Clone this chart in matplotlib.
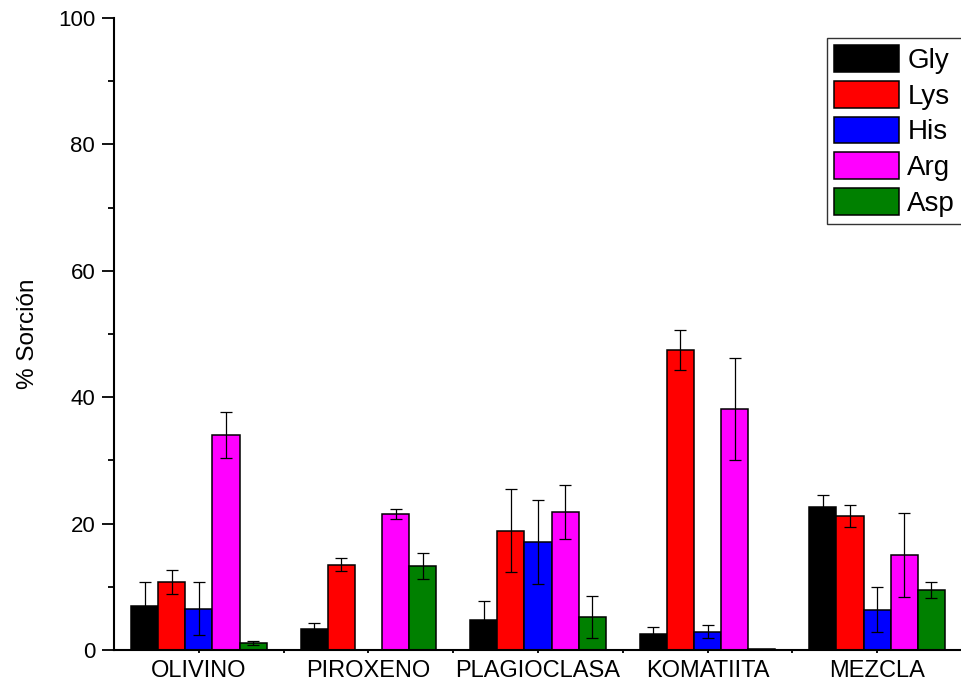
import numpy as np
import matplotlib
matplotlib.use('Agg')
import matplotlib.pyplot as plt
from matplotlib.ticker import MultipleLocator, FixedLocator

plt.rcParams['font.family'] = ['Liberation Sans', 'DejaVu Sans']

# Data
minerals = ['OLIVINO', 'PIROXENO', 'PLAGIOCLASA', 'KOMATIITA', 'MEZCLA']
amino = ['Gly', 'Lys', 'His', 'Arg', 'Asp']
colors = ['#000000', '#ff0000', '#0000ff', '#ff00ff', '#008000']

gly = [6.9, 3.3, 4.7, 2.5, 22.6]
lys = [10.8, 13.5, 18.9, 47.5, 21.2]
his = [6.5, 0.0, 17.1, 2.9, 6.4]
arg = [34.0, 21.5, 21.8, 38.1, 15.0]
asp = [1.1, 13.3, 5.2, 0.1, 9.5]

gly_err = [3.8, 0.9, 3.1, 1.1, 1.9]
lys_err = [1.9, 1.0, 6.6, 3.2, 1.8]
his_err = [4.2, 0.0, 6.6, 1.0, 3.5]
arg_err = [3.7, 0.8, 4.3, 8.1, 6.6]
asp_err = [0.3, 2.0, 3.3, 0.0, 1.2]

values = [gly, lys, his, arg, asp]
errors = [gly_err, lys_err, his_err, arg_err, asp_err]

fig = plt.figure(figsize=(9.62, 6.87), dpi=100)
ax = fig.add_axes([0.1185, 0.0539, 0.8815, 0.9199])

x = np.arange(1, len(minerals) + 1)
width = 0.16
offsets = (np.arange(len(amino)) - 2) * width

for vals, errs, name, col, off in zip(values, errors, amino, colors, offsets):
    vals = np.array(vals)
    errs = np.array(errs)
    ax.bar(x + off, vals, width, color=col, edgecolor='black', linewidth=1.1,
           label=name, zorder=2)
    # skip the bars that have no error bar in the original
    mask = errs > 0
    ax.errorbar(x[mask] + off, vals[mask], yerr=errs[mask], fmt='none',
                ecolor='black', elinewidth=0.9, capsize=4.5, capthick=0.9,
                zorder=3)

ax.set_xlim(0.5, 5.5)
ax.set_ylim(0, 100)
ax.set_xticks(x)
ax.set_xticklabels(minerals, fontsize=17)
ax.xaxis.set_minor_locator(FixedLocator(x[:-1] + 0.5))
ax.yaxis.set_major_locator(MultipleLocator(20))
ax.yaxis.set_minor_locator(MultipleLocator(10))
ax.tick_params(axis='y', which='major', length=8.5, width=1.3, labelsize=16, pad=5)
ax.tick_params(axis='y', which='minor', length=4.3, width=1.3)
ax.tick_params(axis='x', which='both', length=2.5, width=1.3, pad=5)

for side in ['top', 'right']:
    ax.spines[side].set_visible(False)
for side in ['left', 'bottom']:
    ax.spines[side].set_linewidth(1.5)

ax.set_ylabel('% Sorción', fontsize=17.5, labelpad=14)

leg = ax.legend(loc='upper right', bbox_to_anchor=(1.0, 0.968), fontsize=20,
                handlelength=2.35, handleheight=1.1, labelspacing=0.25,
                handletextpad=0.3, borderpad=0.25, borderaxespad=0.0,
                fancybox=False, framealpha=1)
leg.get_frame().set_edgecolor('#333333')
leg.get_frame().set_linewidth(1.0)

fig.savefig('out.png', dpi=100)
